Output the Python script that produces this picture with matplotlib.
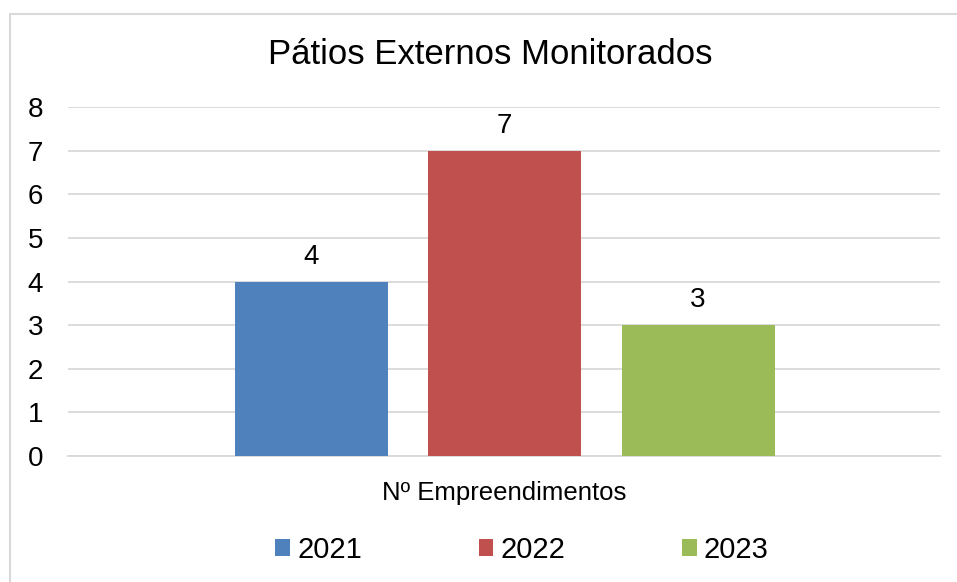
import matplotlib
matplotlib.use("Agg")
import matplotlib.pyplot as plt
from matplotlib.patches import Rectangle, Patch

plt.rcParams['font.family'] = ['Liberation Sans', 'DejaVu Sans']

title = "Pátios Externos Monitorados"
category = "Nº Empreendimentos"
years = ["2021", "2022", "2023"]
values = [4, 7, 3]
colors = ["#4F81BD", "#C0504D", "#9BBB59"]
yticks = [0, 1, 2, 3, 4, 5, 6, 7, 8]

W, H = 957, 582
fig = plt.figure(figsize=(W / 100, H / 100), dpi=100)
fig.patch.set_facecolor("white")

# outer chart border
fig.add_artist(Rectangle((9.5 / W, -0.05), 1.1, 1 - 13.5 / H + 0.05,
                         transform=fig.transFigure, fill=False,
                         edgecolor="#D9D9D9", linewidth=1.5))

left, right = 68 / W, 940 / W
bottom, top = 1 - 456 / H, 1 - 107 / H
ax = fig.add_axes([left, bottom, right - left, top - bottom])

positions = [-1, 0, 1]
ax.bar(positions, values, width=0.79, color=colors, zorder=3)
for p, v in zip(positions, values):
    ax.text(p, v + 0.27, str(v), ha="center", va="bottom", fontsize=20, color="black")

ax.set_xlim(-2.256, 2.25)
ax.set_ylim(0, 8)
ax.set_yticks(yticks)
ax.set_yticklabels([str(t) for t in yticks], fontsize=20)
ax.tick_params(axis="y", length=0, pad=18)
ax.set_xticks([0])
ax.set_xticklabels([category], fontsize=18.5)
ax.tick_params(axis="x", length=0, pad=18)
ax.grid(axis="y", color="#D9D9D9", linewidth=1.3, zorder=0)
for s in ["top", "right", "left"]:
    ax.spines[s].set_visible(False)
ax.spines["bottom"].set_color("#D9D9D9")
ax.spines["bottom"].set_linewidth(1.3)

fig.text(490 / W, 1 - 55 / H, title, ha="center", va="center", fontsize=25)

handles = [Patch(facecolor=c, edgecolor="none") for c in colors]
fig.legend(handles, years, loc="center", bbox_to_anchor=(522 / W, 1 - 550 / H),
           ncol=3, frameon=False, fontsize=21, handlelength=0.51, handleheight=0.51,
           handletextpad=0.24, columnspacing=4.0, borderpad=0, borderaxespad=0)

fig.savefig("out.png", dpi=100)
